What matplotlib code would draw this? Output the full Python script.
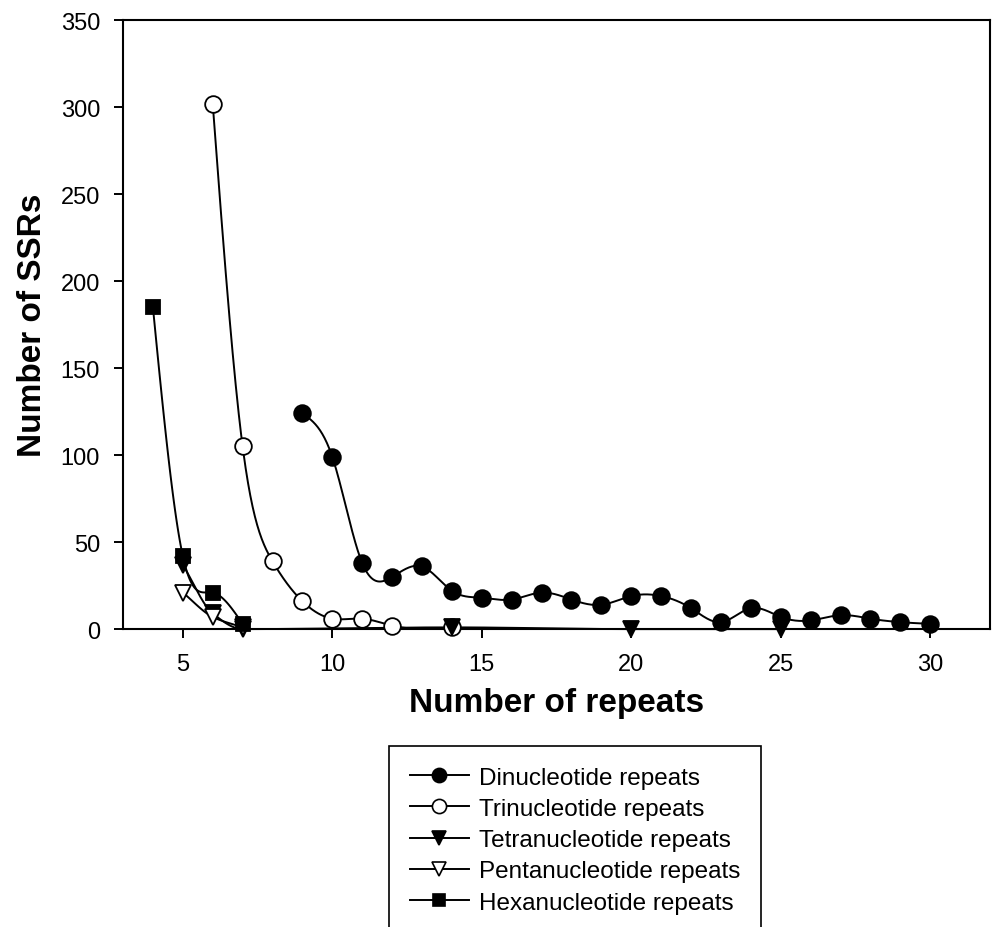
import numpy as np
import matplotlib
matplotlib.use('Agg')
import matplotlib.pyplot as plt
from matplotlib.lines import Line2D

plt.rcParams['font.family'] = ['Liberation Sans', 'DejaVu Sans']

# values
di_x = [9, 10, 11, 12, 13, 14, 15, 16, 17, 18, 19, 20, 21, 22, 23, 24, 25, 26, 27, 28, 29, 30]
di_y = [124, 99, 38, 30, 36, 22, 18, 17, 21, 17, 14, 19, 19, 12, 4, 12, 7, 5, 8, 6, 4, 3]
tri_x = [6, 7, 8, 9, 10, 11, 12, 14]
tri_y = [302, 105, 39, 16, 6, 6, 2, 1]
tetra_x = [5, 6, 7, 14, 20, 25]
tetra_y = [37, 9, 0, 1, 0, 0]
penta_x = [5, 6, 7]
penta_y = [21, 7, 1]
hexa_x = [4, 5, 6, 7]
hexa_y = [185, 42, 21, 3]

labels = ['Dinucleotide repeats', 'Trinucleotide repeats', 'Tetranucleotide repeats',
          'Pentanucleotide repeats', 'Hexanucleotide repeats']


def spline(x, y, n=40):
    # natural cubic spline, like the sigmaplot smooth line
    x = np.asarray(x, float)
    y = np.asarray(y, float)
    h = np.diff(x)
    m = len(x)
    A = np.zeros((m, m))
    r = np.zeros(m)
    A[0, 0] = 1
    A[-1, -1] = 1
    for i in range(1, m - 1):
        A[i, i - 1] = h[i - 1]
        A[i, i] = 2 * (h[i - 1] + h[i])
        A[i, i + 1] = h[i]
        r[i] = 3 * ((y[i + 1] - y[i]) / h[i] - (y[i] - y[i - 1]) / h[i - 1])
    c = np.linalg.solve(A, r)
    xs, ys = [], []
    for i in range(m - 1):
        t = np.linspace(0, h[i], n)
        b = (y[i + 1] - y[i]) / h[i] - h[i] * (2 * c[i] + c[i + 1]) / 3
        d = (c[i + 1] - c[i]) / (3 * h[i])
        xs.append(x[i] + t)
        ys.append(y[i] + b * t + c[i] * t ** 2 + d * t ** 3)
    return np.concatenate(xs), np.concatenate(ys)


def pchip(x, y, n=40):
    # monotone cubic, no overshoot (for the near-zero series)
    x = np.asarray(x, float)
    y = np.asarray(y, float)
    h = np.diff(x)
    dl = np.diff(y) / h
    m = len(x)
    d = np.zeros(m)
    d[0], d[-1] = dl[0], dl[-1]
    for i in range(1, m - 1):
        if dl[i - 1] * dl[i] > 0:
            w1 = 2 * h[i] + h[i - 1]
            w2 = h[i] + 2 * h[i - 1]
            d[i] = (w1 + w2) / (w1 / dl[i - 1] + w2 / dl[i])
    xs, ys = [], []
    for i in range(m - 1):
        t = np.linspace(0, 1, n)
        h00 = 2 * t**3 - 3 * t**2 + 1
        h10 = t**3 - 2 * t**2 + t
        h01 = -2 * t**3 + 3 * t**2
        h11 = t**3 - t**2
        xs.append(x[i] + t * h[i])
        ys.append(h00 * y[i] + h10 * h[i] * d[i] + h01 * y[i + 1] + h11 * h[i] * d[i + 1])
    return np.concatenate(xs), np.concatenate(ys)


fig = plt.figure(figsize=(9.93, 9.28), dpi=100)
ax = fig.add_axes([0.1239, 0.321, 0.997 - 0.1239, 0.977 - 0.321])

series = [
    (di_x, di_y, 'o', 'black', 12, spline),
    (tri_x, tri_y, 'o', 'white', 12, spline),
    (tetra_x, tetra_y, 'v', 'black', 11.5, pchip),
    (penta_x, penta_y, 'v', 'white', 11.5, pchip),
    (hexa_x, hexa_y, 's', 'black', 10, spline),
]

handles = []
for (x, y, mk, fc, ms, fn), lab in zip(series, labels):
    sx, sy = fn(x, y)
    ax.plot(sx, sy, color='black', lw=1.4, zorder=2, clip_on=False)
    ax.plot(x, y, ls='none', marker=mk, mfc=fc, mec='black', mew=1.3, ms=ms, zorder=3, clip_on=False)
    handles.append(Line2D([], [], color='black', lw=1.4, marker=mk, mfc=fc, mec='black',
                          mew=1.2, ms=ms * 0.85))

ax.set_xlim(3, 32)
ax.set_ylim(0, 350)
ax.set_xticks([5, 10, 15, 20, 25, 30])
ax.set_yticks(range(0, 351, 50))
ax.tick_params(direction='out', length=6.5, width=1.4, labelsize=17)
ax.tick_params(axis='x', pad=11)
ax.tick_params(axis='y', pad=10)
for s in ax.spines.values():
    s.set_linewidth(1.5)

ax.set_xlabel('Number of repeats', fontsize=24, fontweight='bold', labelpad=8)
ax.set_ylabel('Number of SSRs', fontsize=24, fontweight='bold', labelpad=9)

leg = fig.legend(handles=handles, labels=labels, loc='upper left',
                 bbox_to_anchor=(389 / 993, 1 - 747 / 928), fontsize=17.5,
                 handlelength=2.45, handletextpad=0.4, labelspacing=0.38,
                 borderpad=0.85, borderaxespad=0, fancybox=False, framealpha=1,
                 edgecolor='black')
leg.get_frame().set_linewidth(1.2)

fig.savefig('out.png', dpi=100)
